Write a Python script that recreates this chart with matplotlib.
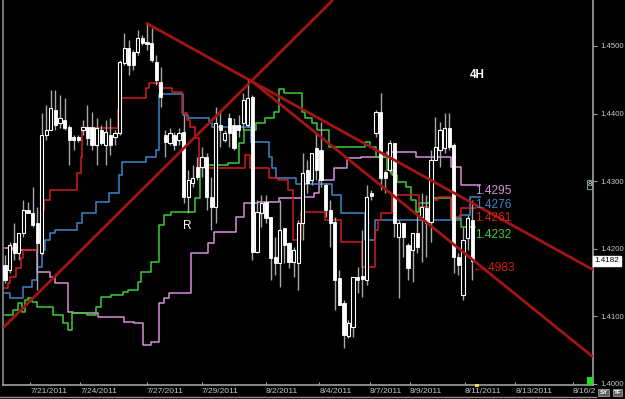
import matplotlib
matplotlib.use("Agg")
import matplotlib.pyplot as plt
from matplotlib.lines import Line2D
from matplotlib.patches import Rectangle

# ---- 4H EUR/USD-style candles (oldest first) ----
opens = [1.4176, 1.4169, 1.4209, 1.4194, 1.4223, 1.4257, 1.4253, 1.4238, 1.4194, 1.4368,
         1.4376, 1.4405, 1.4386, 1.4391, 1.4380, 1.4365, 1.4365, 1.4376, 1.4380, 1.4380,
         1.4354, 1.4376, 1.4354, 1.4368, 1.4365, 1.4371, 1.4475, 1.4497, 1.4491, 1.4491,
         1.4512, 1.4506, 1.4504, 1.4476, 1.4447, 1.4368, 1.4357, 1.4368, 1.4361, 1.4373,
         1.4277, 1.4297, 1.4321, 1.4321, 1.4336, 1.4277, 1.4262, 1.4383, 1.4361, 1.4393,
         1.4383, 1.4383, 1.4386, 1.4383, 1.4425, 1.4195, 1.4253, 1.4269, 1.4247, 1.4188,
         1.4179, 1.4231, 1.4209, 1.4181, 1.4179, 1.4238, 1.4317, 1.4302, 1.4349, 1.4346,
         1.4294, 1.4257, 1.4240, 1.4157, 1.4120, 1.4071, 1.4084, 1.4158, 1.4160, 1.4154,
         1.4283, 1.4371, 1.4402, 1.4314, 1.4317, 1.4357, 1.4218, 1.4238, 1.4206, 1.4198,
         1.4223, 1.4247, 1.4260, 1.4240, 1.4331, 1.4346, 1.4349, 1.4379, 1.4354, 1.4188,
         1.4132, 1.4216, 1.4243]
highs = [1.4191, 1.4210, 1.4238, 1.4223, 1.4272, 1.4269, 1.4291, 1.4262, 1.4401, 1.4413,
         1.4435, 1.4435, 1.4428, 1.4423, 1.4383, 1.4368, 1.4368, 1.4391, 1.4413, 1.4402,
         1.4393, 1.4383, 1.4391, 1.4393, 1.4376, 1.4479, 1.4519, 1.4509, 1.4494, 1.4524,
         1.4516, 1.4534, 1.4527, 1.4487, 1.4469, 1.4376, 1.4379, 1.4373, 1.4379, 1.4398,
         1.4317, 1.4324, 1.4336, 1.4351, 1.4342, 1.4306, 1.4410, 1.4405, 1.4376, 1.4401,
         1.4393, 1.4398, 1.4430, 1.4453, 1.4428, 1.4272, 1.4280, 1.4280, 1.4247, 1.4218,
         1.4272, 1.4231, 1.4210, 1.4203, 1.4243, 1.4342, 1.4331, 1.4342, 1.4371, 1.4388,
         1.4297, 1.4272, 1.4247, 1.4169, 1.4124, 1.4095, 1.4158, 1.4173, 1.4228, 1.4294,
         1.4287, 1.4405, 1.4430, 1.4317, 1.4361, 1.4357, 1.4243, 1.4238, 1.4209, 1.4223,
         1.4253, 1.4283, 1.4280, 1.4346, 1.4395, 1.4388, 1.4401, 1.4401, 1.4357, 1.4194,
         1.4232, 1.4250, 1.4272]
lows = [1.4149, 1.4164, 1.4184, 1.4184, 1.4218, 1.4253, 1.4232, 1.4139, 1.4191, 1.4361,
        1.4376, 1.4376, 1.4379, 1.4376, 1.4324, 1.4346, 1.4358, 1.4368, 1.4354, 1.4346,
        1.4324, 1.4354, 1.4324, 1.4339, 1.4354, 1.4368, 1.4472, 1.4457, 1.4465, 1.4487,
        1.4501, 1.4494, 1.4476, 1.4442, 1.4410, 1.4336, 1.4354, 1.4346, 1.4354, 1.4268,
        1.4253, 1.4291, 1.4302, 1.4306, 1.4257, 1.4228, 1.4238, 1.4351, 1.4358, 1.4351,
        1.4346, 1.4365, 1.4376, 1.4380, 1.4184, 1.4194, 1.4232, 1.4238, 1.4154, 1.4161,
        1.4144, 1.4179, 1.4172, 1.4158, 1.4139, 1.4213, 1.4283, 1.4294, 1.4302, 1.4291,
        1.4247, 1.4203, 1.4110, 1.4117, 1.4053, 1.4068, 1.4070, 1.4135, 1.4129, 1.4147,
        1.4272, 1.4365, 1.4287, 1.4283, 1.4312, 1.4218, 1.4127, 1.4188, 1.4154, 1.4151,
        1.4194, 1.4181, 1.4188, 1.4210, 1.4331, 1.4321, 1.4342, 1.4346, 1.4164, 1.4161,
        1.4124, 1.4198, 1.4154]
closes = [1.4154, 1.4206, 1.4194, 1.4223, 1.4257, 1.4253, 1.4235, 1.4209, 1.4368, 1.4376,
          1.4408, 1.4383, 1.4393, 1.4379, 1.4361, 1.4361, 1.4361, 1.4380, 1.4364, 1.4354,
          1.4379, 1.4357, 1.4373, 1.4354, 1.4371, 1.4476, 1.4497, 1.4472, 1.4472, 1.4512,
          1.4504, 1.4503, 1.4479, 1.4450, 1.4425, 1.4358, 1.4371, 1.4354, 1.4371, 1.4277,
          1.4302, 1.4305, 1.4306, 1.4336, 1.4277, 1.4262, 1.4386, 1.4376, 1.4371, 1.4371,
          1.4349, 1.4376, 1.4420, 1.4423, 1.4195, 1.4254, 1.4268, 1.4246, 1.4186, 1.4179,
          1.4228, 1.4206, 1.4181, 1.4198, 1.4238, 1.4312, 1.4297, 1.4342, 1.4317, 1.4302,
          1.4257, 1.4238, 1.4154, 1.4117, 1.4073, 1.4090, 1.4158, 1.4154, 1.4155, 1.4277,
          1.4278, 1.4402, 1.4305, 1.4305, 1.4357, 1.4238, 1.4238, 1.4218, 1.4172, 1.4223,
          1.4203, 1.4262, 1.4238, 1.4331, 1.4351, 1.4376, 1.4379, 1.4351, 1.4188, 1.4176,
          1.4213, 1.4246, 1.4182]

# ---- step indicator lines: bar where a level starts, and the level ----
red_x = [0, 0.7, 1.1, 2.4, 3.5, 4.0, 7.0, 7.7, 8.1, 8.4, 9.9, 15.8, 16.5, 16.9, 24.6, 25.3,
         30.8, 31.4, 33.6, 36.5, 38.7, 39.8, 40.4, 41.5, 42.4, 52.3, 53.6, 57.6, 59.6, 61.8,
         62.9, 64.6, 69.9, 73.4, 78.0, 80.7, 81.5, 82.2, 84.6, 90.5, 93.4, 94.5, 97.4, 99.6]
red_y = [1.4142, 1.4149, 1.4158, 1.4172, 1.4186, 1.4198, 1.4210, 1.4216, 1.4257, 1.4272,
         1.4287, 1.4312, 1.4336, 1.4379, 1.4405, 1.4423, 1.4438, 1.4445, 1.4438, 1.4432,
         1.4401, 1.4391, 1.4380, 1.4364, 1.4320, 1.4339, 1.4320, 1.4305, 1.4302, 1.4287,
         1.4213, 1.4254, 1.4243, 1.4210, 1.4173, 1.4228, 1.4243, 1.4253, 1.4280, 1.4262,
         1.4272, 1.4277, 1.4247, 1.4261]
red_end = 102.9

blue_x = [0, 1.1, 4.0, 5.9, 7.0, 8.1, 8.8, 9.9, 11.0, 15.8, 16.7, 19.8, 22.6, 24.8, 25.5,
          30.8, 33.0, 33.6, 38.9, 40.0, 44.6, 45.3, 53.8, 57.6, 58.2, 59.1, 63.5, 71.4,
          73.4, 78.7, 80.7, 99.3, 101.5]
blue_y = [1.4135, 1.4127, 1.4144, 1.4154, 1.4173, 1.4198, 1.4213, 1.4223, 1.4228, 1.4238,
          1.4253, 1.4269, 1.4283, 1.4309, 1.4328, 1.4336, 1.4346, 1.4429, 1.4398, 1.4393,
          1.4386, 1.4380, 1.4358, 1.4336, 1.4320, 1.4305, 1.4296, 1.4280, 1.4253, 1.4213,
          1.4243, 1.4250, 1.4276]
blue_end = 103.7

green_x = [0, 1.8, 2.9, 3.7, 4.4, 5.1, 5.9, 7.0, 10.5, 12.7, 13.8, 14.7, 18.0, 19.8, 20.9,
           23.1, 25.7, 26.8, 29.0, 29.7, 31.9, 33.6, 34.7, 36.3, 41.5, 42.6, 48.6, 51.0,
           52.1, 54.9, 56.7, 58.7, 59.8, 60.9, 64.8, 65.5, 67.0, 68.1, 70.8, 78.5, 79.6,
           81.1, 83.5, 84.6, 85.7, 87.5, 88.6, 89.7, 90.5, 93.4, 97.4, 99.6]
green_y = [1.4102, 1.4110, 1.4120, 1.4107, 1.4124, 1.4127, 1.4121, 1.4114, 1.4102, 1.4090,
           1.4080, 1.4105, 1.4102, 1.4114, 1.4129, 1.4132, 1.4136, 1.4139, 1.4151, 1.4166,
           1.4181, 1.4235, 1.4250, 1.4254, 1.4275, 1.4324, 1.4327, 1.4357, 1.4376, 1.4386,
           1.4393, 1.4402, 1.4436, 1.4430, 1.4402, 1.4393, 1.4386, 1.4376, 1.4351, 1.4358,
           1.4351, 1.4336, 1.4317, 1.4309, 1.4299, 1.4291, 1.4272, 1.4254, 1.4268, 1.4275,
           1.4246, 1.4232]
green_end = 102.6

violet_x = [0, 1.8, 7.0, 9.9, 11.0, 13.8, 14.9, 20.2, 25.9, 28.1, 30.1, 31.9, 33.6, 34.7,
            35.8, 40.7, 44.4, 45.7, 50.5, 52.1, 55.2, 59.8, 64.8, 67.5, 68.6, 71.9, 74.7,
            77.8, 83.5, 89.7, 97.4, 99.6]
violet_y = [1.4201, 1.4198, 1.4166, 1.4158, 1.4149, 1.4107, 1.4105, 1.4099, 1.4092, 1.4090,
            1.4058, 1.4062, 1.4120, 1.4127, 1.4135, 1.4194, 1.4209, 1.4225, 1.4247, 1.4268,
            1.4269, 1.4275, 1.4277, 1.4283, 1.4302, 1.4320, 1.4334, 1.4336, 1.4343, 1.4336,
            1.4321, 1.4295]
violet_end = 103.7

# ---- hand-drawn trend lines: (bar0, price0, bar1, price1) ----
trend_lines = [(30.8, 1.4534, 128.4, 1.4169),
               (53.5, 1.4450, 128.4, 1.4040),
               (-0.44, 1.4083, 71.6, 1.4568)]

# ---- axis labels ----
date_pos = [5.5, 16.4, 31.0, 43.0, 57.0, 68.6, 79.7, 88.4, 100.4, 111.4, 124.0]
date_labels = ["7/21/2011", "7/24/2011", "7/27/2011", "7/29/2011", "8/2/2011", "8/4/2011",
               "8/7/2011", "8/9/2011", "8/11/2011", "8/13/2011", "8/16/2"]
price_ticks = [1.40, 1.41, 1.42, 1.43, 1.44, 1.45]
last_price = 1.4182

fam = ["Liberation Sans", "DejaVu Sans"]

fig = plt.figure(figsize=(6.25, 3.99), dpi=100, facecolor="black")
ax = fig.add_axes([0.0048, 0.0351, 0.944, 0.9649])
ax.set_facecolor("black")

# step lines
for xs, ys, end, col in [(violet_x, violet_y, violet_end, "#d88ed8"),
                         (green_x, green_y, green_end, "#3ccc3c"),
                         (blue_x, blue_y, blue_end, "#3f84c8"),
                         (red_x, red_y, red_end, "#d21c1c")]:
    ax.plot(list(xs) + [end], list(ys) + [ys[-1]], drawstyle="steps-post",
            color=col, lw=1.1, zorder=2)

# candles
bw = 0.7
for i, (o, h, l, c) in enumerate(zip(opens, highs, lows, closes)):
    ax.vlines(i, l, h, color="#a8a8a8", lw=1.0, zorder=3)
    lo, hi = min(o, c), max(o, c)
    if c < o:
        ax.add_patch(Rectangle((i - bw / 2, lo), bw, hi - lo, facecolor="white",
                               edgecolor="white", lw=0.6, zorder=4))
    else:
        ax.add_patch(Rectangle((i - bw / 2, lo), bw, hi - lo, facecolor="black",
                               edgecolor="white", lw=0.8, zorder=4))

# trend lines
for x0, p0, x1, p1 in trend_lines:
    ax.plot([x0, x1], [p0, p1], color="#a31414", lw=2.0, zorder=5, solid_capstyle="butt")

# value labels at the end of the lines (nudged down a little so they stack)
lab_x = 102.6
for val, col, dy in [(violet_y[-1], "#d88ed8", 0), (blue_y[-1], "#3f84c8", -1),
                     (red_y[-1], "#d21c1c", -3.5), (green_y[-1], "#3ccc3c", -1.5)]:
    ax.annotate("%.4f" % val, (lab_x, val), xytext=(0, dy), textcoords="offset points",
                color=col, fontsize=8.6, va="top", family=fam, zorder=6)
ax.annotate("\u2190 4983", (lab_x - 0.3, last_price), xytext=(0, -1), textcoords="offset points",
            color="#d21c1c", fontsize=8.6, va="top", family=fam, zorder=6)

ax.text(101.5, 1.4457, "4H", color="white", fontsize=8.5, fontweight="bold",
        ha="left", va="center", family=fam)
ax.text(38.8, 1.4234, "R", color="white", fontsize=8.5, ha="left", va="center", family=fam)

ax.set_xlim(-0.45, 128.4)
ax.set_ylim(1.39985, 1.4568)

# axes styling
ax.spines["top"].set_visible(False)
ax.spines["left"].set_color("#8c8c8c")
ax.spines["right"].set_color("#a0a0a0")
ax.spines["bottom"].set_color("#a0a0a0")
for s in ["left", "right", "bottom"]:
    ax.spines[s].set_linewidth(1.2)

ax.yaxis.tick_right()
ax.set_yticks(price_ticks)
ax.set_yticklabels(["%.4f" % p for p in price_ticks], family=fam, fontsize=5.6,
                   color="#c8c8c8")
ax.tick_params(axis="y", direction="out", length=3, width=0.8, color="#a0a0a0", pad=2)

ax.set_xticks(date_pos)
ax.set_xticklabels(date_labels, family=fam, fontsize=6.0, color="#c8c8c8")
for lbl in ax.get_xticklabels():
    lbl.set_ha("left")
ax.tick_params(axis="x", direction="in", length=2, width=0.8, color="#a0a0a0", pad=2)

# current price box on the right axis
ax.text(1.002, last_price, "%.4f" % last_price, transform=ax.get_yaxis_transform(),
        color="black", fontsize=5.8, family=fam, va="center", ha="left",
        bbox=dict(boxstyle="square,pad=0.2", facecolor="white", edgecolor="white"),
        clip_on=False)

# small chart decorations
ax.text(0.9975, 1.4295, "8", transform=ax.get_yaxis_transform(), color="white",
        fontsize=5.5, ha="right", va="center", clip_on=False, family=fam,
        bbox=dict(boxstyle="square,pad=0.1", facecolor="black", edgecolor="#8fbf8f", lw=0.6))
fig.patches.append(Rectangle((587 / 625, 14 / 399), 6 / 625, 8 / 399, transform=fig.transFigure,
                             facecolor="#20e020", edgecolor="none"))
fig.patches.append(Rectangle((475 / 625, 12.5 / 399), 4 / 625, 3 / 399, transform=fig.transFigure,
                             facecolor="#e8e040", edgecolor="none"))
fig.lines.append(Line2D([0, 596 / 625], [2 / 399, 2 / 399], transform=fig.transFigure,
                        color="#909090", lw=1.0))
for x0, txt in [(597, "SY"), (611, "TF")]:
    fig.text((x0 + 6.5) / 625, 6.5 / 399, txt, color="white", fontsize=4.5, fontweight="bold",
             ha="center", va="center", family=fam,
             bbox=dict(boxstyle="square,pad=0.15", facecolor="#606060", edgecolor="#b0b0b0", lw=0.5))

fig.savefig("out.png", dpi=100, facecolor="black")
